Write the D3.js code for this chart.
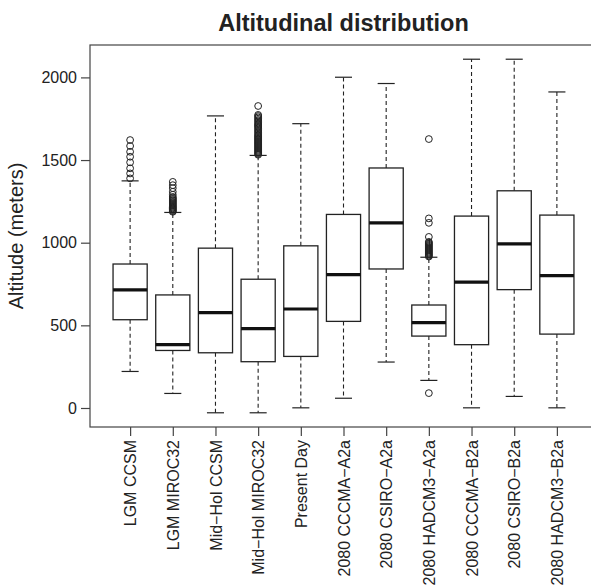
<!DOCTYPE html>
<html>
<head>
<meta charset="utf-8">
<script src="https://cdn.jsdelivr.net/npm/d3@7"></script>
<style>
  body { margin: 0; background: #fff; }
  svg { display: block; font-family: "Liberation Sans", Arial, sans-serif; }
  .frame { fill: none; stroke: #444; stroke-width: 1.2; }
  .axis text { font-size: 16px; fill: #222; }
  .axis line { stroke: #444; stroke-width: 1.2; }
  .box rect { fill: #fff; stroke: #222; stroke-width: 1.3; }
  .box .median { stroke: #111; stroke-width: 3.2; }
  .box .whisker { stroke: #222; stroke-width: 1.1; stroke-dasharray: 4,3; }
  .box .cap { stroke: #222; stroke-width: 1.2; }
  .box circle { fill: none; stroke: #222; stroke-width: 1; }
</style>
</head>
<body>
<svg id="chart"></svg>
<script>
// categories
var groups = [
    "LGM CCSM", "LGM MIROC32", "Mid\u2212Hol CCSM", "Mid\u2212Hol MIROC32", "Present Day",
    "2080 CCCMA\u2212A2a", "2080 CSIRO\u2212A2a", "2080 HADCM3\u2212A2a",
    "2080 CCCMA\u2212B2a", "2080 CSIRO\u2212B2a", "2080 HADCM3\u2212B2a"
];

// five number summaries (metres), one per group
var lowerWhisker = [221, 88, -29, -29, 1, 59, 278, 167, 1, 70, 1];
var lowerQuart   = [534, 348, 334, 280, 312, 524, 841, 435, 383, 716, 447];
var medians      = [714, 383, 577, 480, 599, 807, 1120, 516, 761, 993, 801];
var upperQuart   = [871, 684, 967, 779, 981, 1171, 1452, 623, 1161, 1314, 1167];
var upperWhisker = [1374, 1183, 1767, 1528, 1720, 2001, 1963, 912, 2110, 2110, 1912];

// outliers
var outliers = [
    [1389, 1419, 1450, 1486, 1520, 1550, 1585, 1621],
    [1187, 1192, 1197, 1202, 1207, 1212, 1217, 1222, 1228, 1234, 1240, 1246, 1252,
     1258, 1264, 1270, 1277, 1290, 1308, 1330, 1348, 1368],
    [],
    [1532, 1538, 1544, 1550, 1556, 1562, 1568, 1574, 1580, 1586, 1592, 1598, 1604,
     1610, 1616, 1622, 1628, 1634, 1640, 1646, 1652, 1660, 1668, 1676, 1684, 1692,
     1700, 1706, 1712, 1718, 1726, 1734, 1742, 1750, 1758, 1766, 1773, 1827],
    [],
    [],
    [],
    [90, 916, 922, 928, 934, 940, 946, 952, 958, 964, 970, 976, 982, 988, 994,
     1000, 1005, 1035, 1120, 1147, 1627],
    [],
    [],
    []
];

var yTicks = [0, 500, 1000, 1500, 2000];

var width = 591
  , height = 588
  , plot = { left: 90, top: 45, right: 597, bottom: 427 }
;

var svg = d3.select("#chart")
    .attr("width", width)
    .attr("height", height)
;

var x = d3.scaleLinear()
    .domain([0.06, groups.length + 0.94])
    .range([plot.left, plot.right])
;
var y = d3.scaleLinear()
    .domain([-115, 2196])
    .range([plot.bottom, plot.top])
;
var boxW = (x(1) - x(0)) * 0.8
  , capW = boxW * 0.5
;

// title
svg.append("text")
    .attr("x", (plot.left + plot.right) / 2)
    .attr("y", 31)
    .attr("text-anchor", "middle")
    .style("font-size", "23.5px")
    .style("font-weight", "bold")
    .style("fill", "#222")
    .text("Altitudinal distribution")
;

// y axis
var yAxis = svg.append("g")
    .attr("class", "axis")
    .attr("transform", "translate(" + plot.left + ",0)")
    .call(d3.axisLeft(y)
        .tickValues(yTicks)
        .tickFormat(d3.format("d"))
        .tickSize(9)
        .tickPadding(4))
;
yAxis.select(".domain").remove();

svg.append("text")
    .attr("transform", "translate(23," + ((plot.top + plot.bottom) / 2) + ") rotate(-90)")
    .attr("text-anchor", "middle")
    .style("font-size", "20px")
    .style("fill", "#222")
    .text("Altitude (meters)")
;

// x axis, labels turned on their side
var xAxis = svg.append("g")
    .attr("class", "axis")
    .attr("transform", "translate(0," + plot.bottom + ")")
    .call(d3.axisBottom(x)
        .tickValues(d3.range(1, groups.length + 1))
        .tickFormat(function(d) { return groups[d - 1]; })
        .tickSize(9))
;
xAxis.select(".domain").remove();
xAxis.selectAll("text")
    .attr("transform", "rotate(-90)")
    .attr("text-anchor", "end")
    .attr("x", -13)
    .attr("y", 0)
    .attr("dy", "0.35em")
;

// boxes
var boxes = svg.selectAll(".box")
    .data(groups.map(function(g, i) {
        return {
            i: i + 1, lo: lowerWhisker[i], q1: lowerQuart[i], med: medians[i],
            q3: upperQuart[i], hi: upperWhisker[i], out: outliers[i]
        };
    }))
  .enter().append("g")
    .attr("class", "box")
;

boxes.append("line")
    .attr("class", "whisker")
    .attr("x1", function(d) { return x(d.i); })
    .attr("x2", function(d) { return x(d.i); })
    .attr("y1", function(d) { return y(d.q3); })
    .attr("y2", function(d) { return y(d.hi); })
;
boxes.append("line")
    .attr("class", "whisker")
    .attr("x1", function(d) { return x(d.i); })
    .attr("x2", function(d) { return x(d.i); })
    .attr("y1", function(d) { return y(d.q1); })
    .attr("y2", function(d) { return y(d.lo); })
;
["hi", "lo"].forEach(function(k) {
    boxes.append("line")
        .attr("class", "cap")
        .attr("x1", function(d) { return x(d.i) - capW / 2; })
        .attr("x2", function(d) { return x(d.i) + capW / 2; })
        .attr("y1", function(d) { return y(d[k]); })
        .attr("y2", function(d) { return y(d[k]); })
    ;
});

boxes.append("rect")
    .attr("x", function(d) { return x(d.i) - boxW / 2; })
    .attr("width", boxW)
    .attr("y", function(d) { return y(d.q3); })
    .attr("height", function(d) { return y(d.q1) - y(d.q3); })
;
boxes.append("line")
    .attr("class", "median")
    .attr("x1", function(d) { return x(d.i) - boxW / 2; })
    .attr("x2", function(d) { return x(d.i) + boxW / 2; })
    .attr("y1", function(d) { return y(d.med); })
    .attr("y2", function(d) { return y(d.med); })
;

boxes.selectAll("circle")
    .data(function(d) { return d.out.map(function(v) { return { i: d.i, v: v }; }); })
  .enter().append("circle")
    .attr("cx", function(d) { return x(d.i); })
    .attr("cy", function(d) { return y(d.v); })
    .attr("r", 3.4)
;

// plot frame
svg.append("rect")
    .attr("class", "frame")
    .attr("x", plot.left)
    .attr("y", plot.top)
    .attr("width", plot.right - plot.left)
    .attr("height", plot.bottom - plot.top)
;
</script>
</body>
</html>
